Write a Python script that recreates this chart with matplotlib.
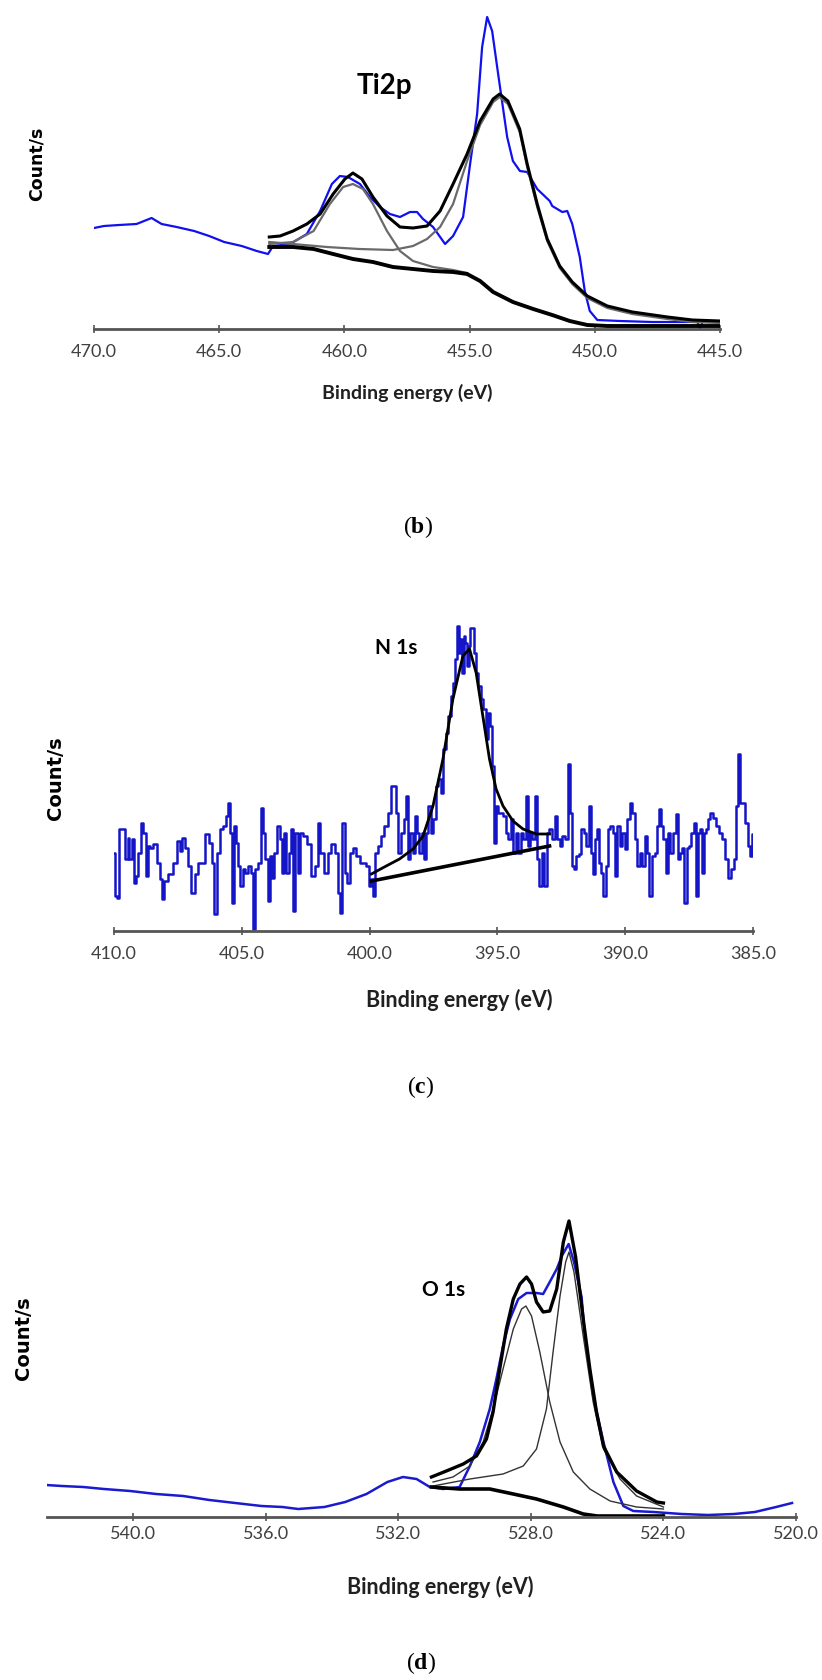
import matplotlib
matplotlib.use('Agg')
import matplotlib.pyplot as plt

plt.rcParams['mathtext.fontset'] = 'custom'
plt.rcParams['mathtext.rm'] = 'Liberation Serif'
plt.rcParams['mathtext.bf'] = 'Liberation Serif:bold'

# ---------------- (b) Ti2p ----------------
b_blue_e = [470.0, 469.6, 469.0, 468.3, 467.7, 467.3, 466.7, 466.0, 465.4, 464.8, 464.1, 463.5,
            463.05, 462.85, 462.17, 461.5, 460.97, 460.5, 460.18, 459.86, 459.38, 458.98, 458.58,
            458.18, 457.78, 457.38, 457.1, 456.86, 456.46, 455.98, 455.66, 455.26, 454.98, 454.7,
            454.5, 454.3, 454.1, 453.86, 453.5, 453.27, 452.99, 452.7, 452.3, 451.8, 451.7, 451.3,
            451.1, 450.9, 450.6, 450.4, 450.2, 449.9, 449.0, 447.7, 446.3, 445.9, 445.8, 445.7,
            445.5, 445.0]
b_blue_h = [101, 103, 104, 105, 111, 105, 102, 98, 93, 87, 83, 78, 75, 83, 85, 95, 118, 145, 153,
            152, 145, 132, 122, 115, 112, 117, 117, 110, 102, 85, 93, 112, 165, 215, 282, 312, 298,
            255, 192, 168, 158, 157, 140, 128, 123, 117, 118, 105, 72, 38, 18, 9, 8, 7, 7, 7, 0, 7,
            7, 7]
b_env_e = [463.0, 462.57, 462.05, 461.5, 460.97, 460.45, 459.98, 459.66, 459.3, 458.86, 458.3,
           457.78, 457.26, 456.7, 456.18, 455.66, 455.1, 454.58, 454.06, 453.8, 453.47, 453.0,
           452.7, 452.3, 451.9, 451.4, 450.9, 450.3, 449.5, 448.5, 447.1, 446.1, 445.0]
b_env_h = [92, 93, 98, 105, 115, 135, 150, 156, 150, 132, 113, 102, 101, 103, 118, 145, 175, 208,
           230, 235, 228, 200, 165, 125, 90, 63, 47, 33, 23, 17, 12, 9, 8]
b_bg_e = [463.0, 462.05, 461.23, 460.45, 459.66, 458.86, 458.06, 457.26, 456.46, 455.66, 455.1,
          454.58, 454.06, 453.27, 452.46, 451.7, 451.0, 450.3, 449.5, 447.0, 445.0]
b_bg_h = [82, 82, 80, 75, 70, 67, 62, 60, 58, 57, 55, 48, 37, 27, 20, 14, 8, 4, 3, 3, 3]
b_p1_e = [463.0, 462.05, 461.23, 460.58, 460.05, 459.66, 459.26, 458.86, 458.3, 457.78, 457.26,
          456.46, 455.66, 455.1]
b_p1_h = [85, 87, 98, 125, 142, 145, 140, 125, 98, 78, 68, 62, 59, 56]
b_p2_e = [463.0, 462.05, 460.7, 459.4, 458.06, 457.26, 456.7, 456.18, 455.66, 455.1, 454.58, 454.06,
          453.8, 453.47, 453.0, 452.7, 452.3, 451.9, 451.4, 450.9, 450.3, 449.5, 448.5, 447.1,
          446.1, 445.0]
b_p2_h = [87, 85, 82, 80, 79, 83, 90, 102, 125, 168, 204, 227, 232, 225, 197, 162, 122, 88, 61, 45,
          31, 21, 15, 10, 7, 6]
b_ticks = [470, 465, 460, 455, 450, 445]

# ---------------- (c) N 1s ----------------
c_blue_e = [410.0, 409.96, 409.83, 409.74, 409.61, 409.50, 409.44, 409.35, 409.27, 409.20,
            409.11, 409.01, 408.89, 408.81, 408.72, 408.63, 408.53, 408.40, 408.27, 408.16,
            408.07, 407.99, 407.81, 407.61, 407.48, 407.39, 407.29, 407.18, 407.05, 406.92,
            406.77, 406.64, 406.51, 406.38, 406.22, 406.11, 406.04, 405.92, 405.79, 405.66,
            405.59, 405.51, 405.44, 405.36, 405.28, 405.20, 405.10, 405.01, 404.92, 404.81,
            404.68, 404.58, 404.51, 404.42, 404.32, 404.21, 404.13, 404.03, 403.94, 403.86,
            403.77, 403.68, 403.57, 403.47, 403.38, 403.30, 403.21, 403.12, 403.04, 402.95,
            402.86, 402.76, 402.66, 402.53, 402.40, 402.20, 402.07, 401.98, 401.88, 401.68,
            401.56, 401.43, 401.30, 401.20, 401.11, 401.02, 400.94, 400.85, 400.72, 400.59,
            400.46, 400.33, 400.20, 400.07, 399.97, 399.90, 399.83, 399.74, 399.63, 399.50,
            399.35, 399.22, 399.11, 399.02, 398.93, 398.83, 398.72, 398.62, 398.54, 398.46,
            398.36, 398.27, 398.17, 398.10, 398.02, 397.91, 397.84, 397.76, 397.65, 397.55,
            397.46, 397.37, 397.26, 397.16, 397.07, 396.98, 396.87, 396.77, 396.68, 396.61,
            396.55, 396.48, 396.41, 396.35, 396.28, 396.22, 396.15, 396.09, 396.02, 395.96,
            395.89, 395.80, 395.70, 395.59, 395.50, 395.41, 395.33, 395.25, 395.18, 395.10,
            395.02, 394.92, 394.81, 394.72, 394.63, 394.52, 394.42, 394.33, 394.24, 394.13,
            394.03, 393.94, 393.85, 393.77, 393.68, 393.59, 393.48, 393.42, 393.32, 393.22,
            393.12, 393.02,
            392.91, 392.80, 392.71, 392.62, 392.52, 392.41, 392.28, 392.19, 392.13, 392.06,
            391.97, 391.86, 391.76, 391.68, 391.58, 391.47, 391.37, 391.29, 391.21, 391.13,
            391.06, 390.98, 390.90, 390.80, 390.72, 390.63, 390.53, 390.46, 390.37, 390.27,
            390.17, 390.07, 389.97, 389.88, 389.78, 389.67, 389.58, 389.49, 389.39, 389.28,
            389.19, 389.10, 389.00, 388.89, 388.80, 388.71, 388.63, 388.55, 388.47, 388.37,
            388.28, 388.19, 388.08, 387.98, 387.90, 387.82, 387.72, 387.64, 387.56, 387.46,
            387.37, 387.28, 387.20, 387.12, 387.04, 386.96, 386.88, 386.81, 386.71, 386.62,
            386.52, 386.39, 386.26, 386.15, 386.05, 385.93, 385.80, 385.70, 385.61, 385.54,
            385.48, 385.35, 385.24, 385.16, 385.08, 385.01]
c_blue_h = [78, 35, 33, 102, 102, 72, 93, 72, 92, 48,
            55, 78, 108, 98, 55, 85, 83, 87, 68, 52,
            32, 50, 57, 68, 90, 80, 93, 83, 65, 38,
            57, 68, 68, 97, 88, 68, 17, 78, 102, 105,
            115, 128, 98, 28, 105, 88, 65, 45, 62, 58,
            65, 58, 2, 62, 68, 123, 98, 72, 30, 75,
            53, 78, 105, 92, 58, 98, 58, 78, 102, 20,
            98, 58, 98, 95, 87, 55, 65, 108, 78, 58,
            78, 87, 78, 38, 18, 108, 58, 48, 78, 83,
            75, 68, 68, 65, 45, 52, 35, 78, 85, 95,
            105, 118, 145, 145, 118, 78, 98, 112, 135, 72,
            98, 78, 115, 98, 78, 98, 72, 98, 125, 98,
            112, 145, 152, 138, 182, 198, 215, 235, 248, 272,
            305, 278, 292, 258, 295, 288, 265, 285, 303, 303,
            278, 258, 245, 232, 222, 192, 218, 205, 165, 88,
            125, 118, 118, 115, 98, 92, 112, 78, 98, 78,
            98, 92, 135, 85, 98, 92, 135, 72, 45, 78,
            45, 98,
            102, 92, 115, 92, 85, 95, 92, 167, 118, 65,
            62, 75, 77, 102, 98, 85, 125, 78, 57, 92,
            102, 68, 58, 35, 65, 102, 105, 98, 55, 105,
            85, 98, 82, 112, 128, 118, 92, 65, 78, 65,
            95, 78, 35, 75, 78, 105, 122, 105, 92, 58,
            98, 78, 98, 117, 72, 78, 83, 28, 83, 85,
            98, 108, 35, 98, 102, 58, 98, 102, 112, 118,
            113, 105, 98, 92, 72, 53, 62, 72, 125, 177,
            128, 128, 108, 85, 75, 97]
c_env_e = [399.93, 399.35, 398.83, 398.30, 397.91, 397.52, 397.13, 396.74, 396.35, 396.09, 395.83,
           395.57, 395.31, 395.05, 394.78, 394.39, 394.00, 393.48, 392.96]
c_env_h = [57, 65, 72, 82, 95, 125, 172, 232, 275, 282, 258, 215, 172, 142, 125, 110, 102, 97, 97]
c_bg_e = [399.93, 392.96]
c_bg_h = [50, 85]
c_ticks = [410, 405, 400, 395, 390, 385]

# ---------------- (d) O 1s ----------------
d_blue_e = [542.63, 542.15, 541.51, 540.88, 540.09, 539.31, 538.49, 537.70, 536.92, 536.13,
            535.50, 535.02, 534.23, 533.60, 532.96, 532.33, 531.86, 531.45, 531.05, 530.65,
            530.15, 529.84, 529.54, 529.24, 529.04, 528.84, 528.63, 528.38, 528.13, 527.83,
            527.63, 527.43, 527.22, 527.05, 526.86, 526.70, 526.47, 526.37, 526.12, 525.81,
            525.51, 525.21, 524.91, 524.3, 523.45, 522.66, 521.87, 521.24, 520.6, 520.12]
d_blue_h = [32, 31, 30, 28, 26, 23, 21, 17, 14, 11, 10, 8, 10, 15, 23, 35, 40, 38, 30, 28,
            30, 51, 75, 108, 138, 171, 198, 218, 224, 224, 223, 235, 248, 262, 273, 255, 220, 181,
            121, 75, 35, 11, 6, 5, 3, 2, 3, 5, 10, 14]
d_env_e = [531.0, 530.55, 530.04, 529.64, 529.34, 529.14, 528.94, 528.74, 528.53, 528.33, 528.13,
           527.98, 527.83, 527.63, 527.43, 527.22, 527.02, 526.85, 526.65, 526.42, 526.22, 526.02,
           525.81, 525.41, 524.81, 524.2, 524.0]
d_env_h = [40, 46, 53, 61, 78, 105, 148, 188, 218, 233, 240, 233, 215, 205, 206, 228, 275, 296,
           260, 198, 148, 105, 71, 45, 26, 15, 14]
d_p1_e = [530.95, 530.35, 529.84, 529.44, 529.14, 528.84, 528.53, 528.28, 528.15, 527.98, 527.73,
          527.43, 527.12, 526.72, 526.22, 525.61, 524.81, 524.0]
d_p1_h = [35, 40, 51, 75, 108, 148, 188, 208, 211, 201, 165, 115, 75, 45, 28, 16, 10, 8]
d_p2_e = [530.95, 529.84, 528.84, 528.23, 527.83, 527.53, 527.33, 527.12, 526.95, 526.85, 526.7,
          526.42, 526.12, 525.81, 525.31, 524.81, 524.0]
d_p2_h = [31, 38, 43, 51, 68, 108, 165, 221, 255, 265, 245, 181, 115, 68, 38, 21, 10]
d_bg_e = [531.0, 530.15, 529.24, 528.53, 527.83, 527.02, 526.42, 526.0, 524.0]
d_bg_h = [30, 28, 28, 23, 18, 10, 3, 1, 1]
d_ticks = [540, 536, 532, 528, 524, 520]

W, H = 822, 1681
fig = plt.figure(figsize=(W / 100, H / 100), dpi=100)
BLUE = '#1010f0'
GREY = '#404040'


def add_panel(left, right, top, bottom, xlim, ticks, pad):
    ax = fig.add_axes([left / W, 1 - bottom / H, (right - left) / W, (bottom - top) / H])
    ax.set_xlim(*xlim)
    ax.set_ylim(0, bottom - top)
    for s in ['top', 'left', 'right']:
        ax.spines[s].set_visible(False)
    ax.spines['bottom'].set_color('#555555')
    ax.spines['bottom'].set_linewidth(2)
    ax.set_yticks([])
    ax.set_xticks(ticks)
    ax.set_xticklabels([f'{t:.1f}' for t in ticks], fontfamily='Lato', fontsize=13, color=GREY)
    ax.tick_params(axis='x', direction='inout', length=6, width=1.2, color='#555555', pad=pad)
    ax.patch.set_alpha(0)
    return ax


def ftext(x, y, s, **kw):
    fig.text(x / W, 1 - y / H, s, ha='center', va='center', **kw)


# (b)
ax = add_panel(94, 720, 10, 330, (470, 445), b_ticks, 7)
ax.plot(b_blue_e, b_blue_h, color=BLUE, lw=1.6)
ax.plot(b_p1_e, b_p1_h, color='#6a6a6a', lw=1.6)
ax.plot(b_p2_e, b_p2_h, color='#6a6a6a', lw=1.6)
ax.plot(b_bg_e, b_bg_h, color='black', lw=2.8)
ax.plot(b_env_e, b_env_h, color='black', lw=2.2)
ftext(384, 86, 'Ti2p', fontfamily='Lato', fontweight='bold', fontsize=20)
ftext(37, 164, 'Count/s', fontfamily='DejaVu Sans', fontweight='bold', fontsize=12.5, rotation=90)
ftext(407, 393, 'Binding energy (eV)', fontfamily='Lato', fontweight='bold', fontsize=14,
      color='#202020')
ftext(418, 527, r'($\mathbf{b}$)', fontfamily='Liberation Serif', fontsize=17)

# (c)
ax = add_panel(114, 753, 600, 932, (410, 385), c_ticks, 7)
ax.plot(c_blue_e, c_blue_h, color='#1515c8', lw=1.8, drawstyle='steps-mid')
ax.plot(c_env_e, c_env_h, color='black', lw=2.0)
ax.plot(c_bg_e, c_bg_h, color='black', lw=2.6)
ftext(396, 648, 'N 1s', fontfamily='Lato', fontweight='bold', fontsize=15)
ftext(55, 778, 'Count/s', fontfamily='DejaVu Sans', fontweight='bold', fontsize=14, rotation=90)
ftext(459, 1000, 'Binding energy (eV)', fontfamily='Lato', fontweight='bold', fontsize=15.5,
      color='#202020')
ftext(421, 1087, r'($\mathbf{c}$)', fontfamily='Liberation Serif', fontsize=17)

# (d)
ax = add_panel(47, 796, 1200, 1518, (542.6, 520), d_ticks, 3)
ax.plot(d_blue_e, d_blue_h, color='#1a1ad0', lw=1.8)
ax.plot(d_p1_e, d_p1_h, color='#333333', lw=1.0)
ax.plot(d_p2_e, d_p2_h, color='#333333', lw=1.0)
ax.plot(d_bg_e, d_bg_h, color='black', lw=2.6)
ax.plot(d_env_e, d_env_h, color='black', lw=2.4)
ftext(444, 1290, 'O 1s', fontfamily='Lato', fontweight='bold', fontsize=15)
ftext(24, 1338, 'Count/s', fontfamily='DejaVu Sans', fontweight='bold', fontsize=14, rotation=90)
ftext(440, 1587, 'Binding energy (eV)', fontfamily='Lato', fontweight='bold', fontsize=15.5,
      color='#202020')
ftext(421, 1663, r'($\mathbf{d}$)', fontfamily='Liberation Serif', fontsize=17)

fig.savefig('out.png', dpi=100, facecolor='white')
